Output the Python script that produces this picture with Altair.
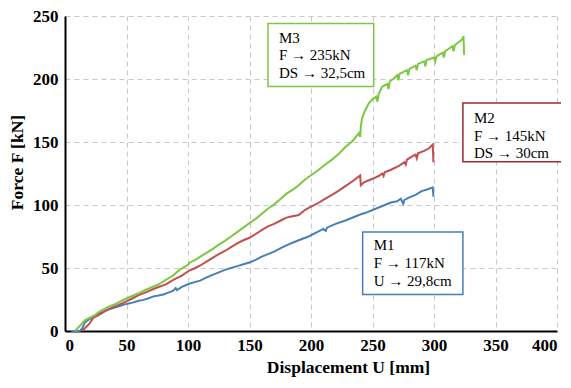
import altair as alt
import pandas as pd

# M3 (green)
m3_x = [8, 10, 13, 16, 20, 25, 28, 35, 40, 45, 50, 55, 60, 65, 70, 75, 77, 82, 88, 93, 100, 101, 107, 110,
        115, 120, 125, 130, 135, 140, 145, 150, 155, 160, 165, 170, 175, 180, 185, 190, 195, 200, 205, 210,
        217, 222, 228, 234, 239, 240, 240.5, 241.5, 244, 247, 250, 253, 254, 255, 258, 262, 263, 264, 268, 270,
        271, 272, 278, 279, 280, 285, 286, 287, 292, 293, 294, 300, 301, 302, 307, 308, 309, 315, 316, 317,
        323, 324, 324.5]
m3_y = [0, 2, 5, 8.5, 10.5, 13, 15.5, 19, 21, 23.5, 25.8, 28, 30, 32.5, 34.5, 36.5, 37.5, 40.5, 44, 48.5,
        52.5, 54, 57, 59, 62, 65, 68.5, 71.5, 75, 78.5, 82, 85.6, 89, 93, 97, 100.5, 104.5, 109, 112, 115.6,
        120, 123.6, 127, 131, 136, 140, 146, 151, 157, 154, 162, 169, 175, 180.7, 184, 186, 182, 188, 194,
        196, 192, 198, 201, 203, 199, 204, 207, 203, 208, 210.6, 207, 212, 214, 210, 215, 217, 214, 218,
        221, 217, 222, 226, 222, 227, 231.5, 234, 219]

# M2 (red)
m2_x = [13.5, 16, 20, 23, 28, 33, 38, 43, 50, 55, 60, 65, 70, 75, 82, 88, 95, 101, 106, 110, 115, 120,
        125, 130, 135, 140, 145, 150, 155, 160, 165, 170, 175, 180, 185, 190, 195, 200, 205, 210, 217, 222,
        228, 234, 240, 240.5, 243, 250, 255, 258, 259, 260, 265, 271.5, 276, 277, 278, 283, 285, 286, 287,
        292, 296, 299, 299.5]
m2_y = [0, 2, 6, 10.4, 13, 16, 18.5, 20.5, 23.5, 26, 28.5, 30.5, 32.5, 34.5, 37, 40.5, 44, 48, 50, 52, 55,
        58, 61, 63.5, 66.5, 69.5, 72, 74, 77, 80, 83, 85, 87.5, 90, 91, 92, 96, 98.7, 101, 104, 108, 111,
        115, 119, 123.4, 115.6, 118, 120.8, 123, 125, 123, 126, 128, 131, 134, 132, 136, 139, 140, 137, 141,
        143, 145, 148, 134]

# M1 (blue)
m1_x = [5, 12, 14, 16, 20, 25, 28, 35, 40, 45, 50, 55, 60, 63, 68, 72, 75, 77, 80, 84, 88, 90, 91, 95,
        101, 106, 110, 115, 120, 125, 130, 135, 140, 145, 150, 155, 160, 165, 170, 175, 180, 185, 190, 198,
        205, 210, 212, 213, 220, 228, 235, 240, 245, 250, 255, 260, 265, 270, 273, 275, 276, 280, 285, 290,
        295, 299, 299.5]
m1_y = [0, 0, 2, 6.5, 9.5, 12.5, 14, 17, 18.5, 20, 21.5, 22.5, 24, 24.5, 26, 27.5, 28, 28.4, 29, 30.5,
        32, 34, 32.5, 35, 37.5, 39, 40, 42.5, 44.5, 46.5, 48.5, 50, 51.5, 53, 54.4, 56.5, 59, 61, 63, 65.5,
        68, 70, 72, 75, 78.5, 81, 79.5, 82, 85, 87.7, 90.5, 92.5, 94, 96, 98, 100, 102, 103, 105, 101, 104,
        106, 108, 111, 112.5, 114, 106.5]

series_names = ["M1", "M2", "M3"]
series_colors = ["#4A7EBB", "#C0504D", "#7DC742"]
box_colors = ["#4A7EBB", "#9B2B2D", "#7DC742"]

# annotation boxes (data coordinates)
box_x1 = [242, 323.5, 165]
box_x2 = [323.5, 404, 251]
box_y1 = [29, 134.3, 194]
box_y2 = [78.5, 181, 244]
box_lines = [["M1", "F \u2192 117kN", "U \u2192 29,8cm"],
             ["M2", "F \u2192 145kN", "DS \u2192 30cm"],
             ["M3", "F \u2192 235kN", "DS \u2192 32,5cm"]]
text_x = [251, 332.5, 174]
text_y = [[68, 53.9, 39.7], [169.2, 154.8, 140.9], [232.3, 219.2, 204.7]]

rows = []
for name, xs, ys in [("M1", m1_x, m1_y), ("M2", m2_x, m2_y), ("M3", m3_x, m3_y)]:
    for i, (a, b) in enumerate(zip(xs, ys)):
        rows.append({"s": name, "x": a, "y": b, "i": i})
df = pd.DataFrame(rows)

boxes = pd.DataFrame({"s": series_names, "x1": box_x1, "x2": box_x2, "y1": box_y1, "y2": box_y2})
trows = []
for k in range(3):
    for j in range(3):
        trows.append({"s": series_names[k], "t": box_lines[k][j], "x": text_x[k], "y": text_y[k][j]})
texts = pd.DataFrame(trows)

xs = alt.Scale(domain=[0, 400], nice=False)
ys = alt.Scale(domain=[0, 250], nice=False)
col_line = alt.Scale(domain=series_names, range=series_colors)
col_box = alt.Scale(domain=series_names, range=box_colors)

lines = alt.Chart(df).mark_line(strokeWidth=2).encode(
    x=alt.X("x:Q", scale=xs, title="Displacement U [mm]",
            axis=alt.Axis(values=[0, 50, 100, 150, 200, 250, 300, 350, 400], titleX=283)),
    y=alt.Y("y:Q", scale=ys, title="Force F  [kN]",
            axis=alt.Axis(values=[0, 50, 100, 150, 200, 250], titleY=146)),
    color=alt.Color("s:N", scale=col_line, legend=None),
    order=alt.Order("i:Q"),
    detail="s:N",
)

rects = alt.Chart(boxes).mark_rect(fill="white", strokeWidth=1.5).encode(
    x=alt.X("x1:Q", scale=xs), x2="x2:Q",
    y=alt.Y("y1:Q", scale=ys), y2="y2:Q",
    stroke=alt.Stroke("s:N", scale=col_box, legend=None),
)

labels = alt.Chart(texts).mark_text(align="left", baseline="middle", font="Liberation Serif",
                                    fontSize=15, color="black").encode(
    x=alt.X("x:Q", scale=xs), y=alt.Y("y:Q", scale=ys), text="t:N")

chart = alt.layer(lines, rects, labels).resolve_scale(color="independent").properties(
    width=492, height=315,
    autosize=alt.AutoSizeParams(type="none"),
    padding={"left": 57, "top": 8, "right": 4, "bottom": 49},
).configure_view(stroke=None).configure_axis(
    labelFont="Liberation Serif", labelFontSize=17, labelFontWeight="bold", labelColor="black",
    titleFont="Liberation Serif", titleFontSize=17.5, titleFontWeight="bold", titleColor="black",
    grid=True, gridColor="#C8C8C8", gridDash=[5, 4], gridWidth=1,
    domainColor="black", domainWidth=2, ticks=False,
).configure_axisX(labelPadding=6, titlePadding=5).configure_axisY(labelPadding=7, titlePadding=6)

chart.save("out.html", embed_options={"renderer": "svg", "actions": False})
